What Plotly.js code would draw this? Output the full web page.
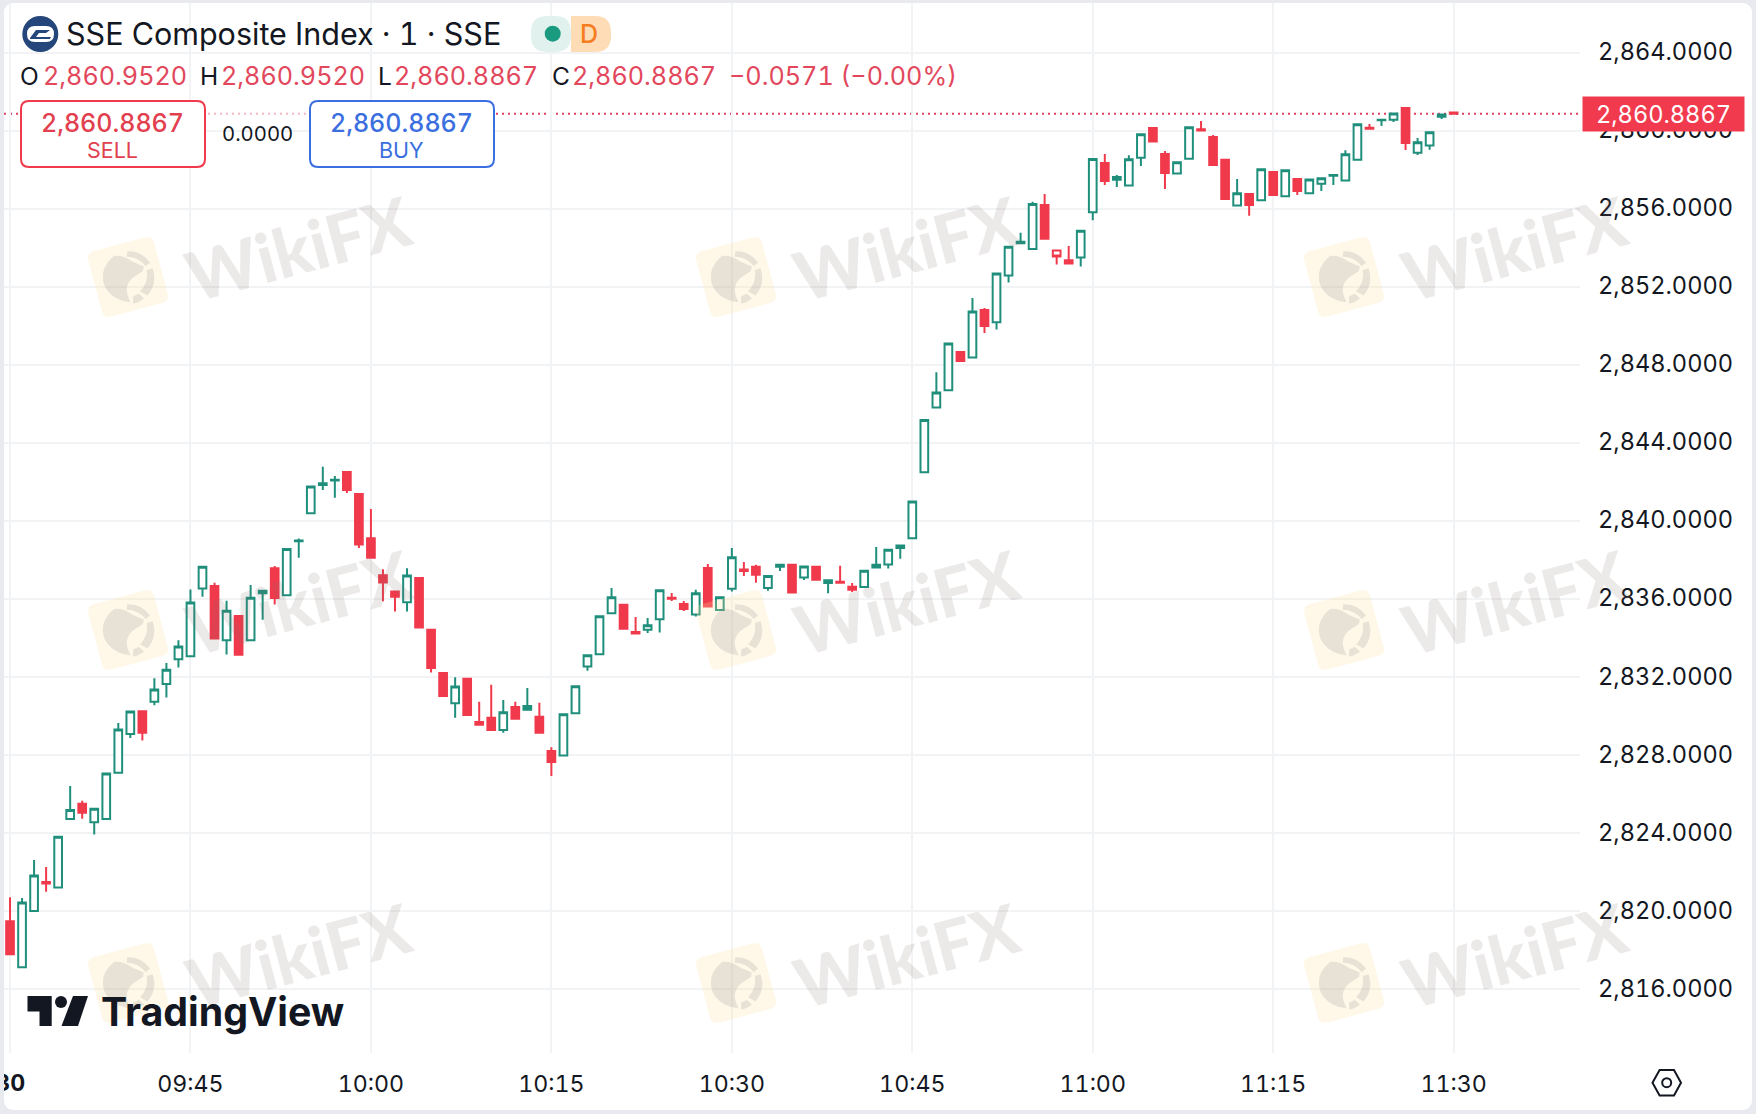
<!DOCTYPE html>
<html>
<head>
<meta charset="utf-8">
<title>SSE Composite Index</title>
<script src="https://cdn.plot.ly/plotly-3.0.1.min.js"></script>
<style>
html,body{margin:0;padding:0;width:1756px;height:1114px;overflow:hidden;background:#e8eaf0;}
#panel{position:absolute;left:4px;top:3px;width:1748px;height:1107px;background:#fff;border-radius:9px;overflow:hidden;}
#chart{position:absolute;left:-4px;top:-3px;width:1756px;height:1114px;}
svg text{font-feature-settings:"tnum" 1;}
</style>
</head>
<body>
<div id="panel"><div id="chart"></div></div>
<script>
var barTimes = ["09:30","09:31","09:32","09:33","09:34","09:35","09:36","09:37","09:38","09:39","09:40","09:41","09:42","09:43","09:44",
"09:45","09:46","09:47","09:48","09:49","09:50","09:51","09:52","09:53","09:54","09:55","09:56","09:57","09:58","09:59",
"10:00","10:01","10:02","10:03","10:04","10:05","10:06","10:07","10:08","10:09","10:10","10:11","10:12","10:13","10:14",
"10:15","10:16","10:17","10:18","10:19","10:20","10:21","10:22","10:23","10:24","10:25","10:26","10:27","10:28","10:29",
"10:30","10:31","10:32","10:33","10:34","10:35","10:36","10:37","10:38","10:39","10:40","10:41","10:42","10:43","10:44",
"10:45","10:46","10:47","10:48","10:49","10:50","10:51","10:52","10:53","10:54","10:55","10:56","10:57","10:58","10:59",
"11:00","11:01","11:02","11:03","11:04","11:05","11:06","11:07","11:08","11:09","11:10","11:11","11:12","11:13","11:14",
"11:15","11:16","11:17","11:18","11:19","11:20","11:21","11:22","11:23","11:24","11:25","11:26","11:27","11:28","11:29","11:30"];
var opens = [2819.49,2817.14,2820.02,2821.50,2821.22,2824.73,2825.51,2824.57,2824.73,2827.10,2829.09,2830.26,2830.75,2831.65,2832.92,
2833.08,2836.55,2836.68,2833.89,2835.14,2833.89,2836.31,2837.59,2836.20,2838.97,2840.40,2841.85,2842.08,2842.52,2841.39,
2839.13,2837.23,2836.40,2835.84,2837.09,2834.43,2832.22,2830.67,2831.92,2829.71,2829.92,2829.30,2830.48,2830.33,2829.97,
2828.22,2827.99,2830.16,2832.55,2833.18,2835.28,2835.71,2834.32,2834.44,2834.97,2836.07,2835.76,2835.21,2837.60,2835.45,
2836.53,2837.52,2837.66,2836.58,2837.66,2837.77,2837.11,2837.66,2836.83,2836.90,2836.64,2836.62,2837.62,2837.78,2838.63,
2839.12,2842.51,2845.83,2846.71,2848.67,2848.39,2850.82,2850.19,2852.59,2854.25,2853.95,2856.21,2853.88,2853.37,2853.51,
2855.84,2858.36,2857.50,2857.20,2858.63,2860.15,2858.82,2857.82,2858.58,2860.09,2859.69,2858.52,2856.18,2856.77,2856.45,
2857.90,2856.65,2857.54,2856.81,2857.30,2857.71,2857.46,2858.53,2860.17,2860.55,2860.57,2861.18,2858.89,2859.25,2860.73,2860.952];
var highs = [2820.72,2820.69,2822.63,2822.28,2823.83,2826.42,2825.67,2825.26,2827.06,2829.65,2830.24,2830.26,2831.95,2832.73,2833.89,
2836.50,2837.67,2836.84,2835.92,2835.14,2836.73,2836.43,2837.70,2838.58,2839.11,2841.78,2842.79,2842.31,2842.52,2841.39,
2840.63,2837.53,2836.40,2837.59,2837.09,2834.43,2832.22,2832.00,2831.92,2830.74,2831.61,2830.84,2830.74,2831.45,2830.69,
2828.41,2830.10,2831.54,2833.13,2835.13,2836.58,2835.71,2835.09,2835.04,2836.46,2836.32,2835.91,2836.48,2837.81,2836.10,
2838.63,2837.91,2837.76,2837.20,2837.77,2837.77,2837.68,2837.66,2836.97,2837.71,2836.83,2837.46,2838.67,2838.54,2838.75,
2841.01,2845.18,2847.63,2849.11,2848.67,2851.44,2850.93,2852.69,2854.07,2854.78,2856.37,2856.77,2853.88,2854.11,2854.89,
2858.56,2858.82,2857.75,2858.75,2859.83,2860.15,2858.97,2858.40,2860.19,2860.51,2859.80,2858.52,2857.54,2856.77,2858.04,
2857.90,2857.99,2857.54,2857.51,2857.58,2857.75,2859.01,2860.34,2860.36,2860.58,2860.90,2861.18,2859.64,2859.93,2860.84,2860.952];
var lows = [2817.80,2817.14,2820.02,2821.00,2821.22,2824.73,2824.75,2823.94,2824.73,2827.10,2828.88,2828.76,2830.56,2830.96,2832.50,
2833.08,2836.13,2833.98,2833.16,2833.15,2833.89,2834.95,2835.73,2836.20,2838.12,2840.40,2841.60,2841.20,2841.44,2838.62,
2838.13,2835.89,2835.37,2835.37,2834.55,2832.24,2831.04,2829.93,2830.07,2829.56,2829.30,2829.15,2829.87,2830.33,2829.15,
2826.94,2827.99,2830.16,2832.33,2833.18,2835.28,2834.48,2834.24,2834.27,2834.29,2835.91,2835.40,2835.11,2835.62,2835.45,
2836.39,2837.19,2836.84,2836.43,2837.45,2836.35,2836.99,2837.00,2836.30,2836.85,2836.37,2836.62,2837.62,2837.57,2838.08,
2839.12,2842.51,2845.83,2846.71,2848.21,2848.39,2849.64,2849.82,2852.23,2854.25,2853.95,2854.48,2853.15,2853.21,2853.05,
2855.42,2857.23,2857.13,2857.20,2858.21,2859.46,2857.03,2857.82,2858.58,2860.02,2858.26,2856.52,2856.18,2855.65,2856.45,
2856.72,2856.65,2856.72,2856.81,2856.93,2857.23,2857.46,2858.53,2860.12,2860.25,2860.46,2859.03,2858.77,2859.04,2860.62,2860.8867];
var closes = [2817.80,2820.46,2821.84,2821.43,2823.83,2825.20,2825.05,2825.26,2827.06,2829.32,2830.24,2829.16,2831.37,2832.39,2833.57,
2835.83,2837.67,2833.98,2835.41,2833.15,2836.08,2836.43,2836.06,2838.58,2839.01,2841.78,2841.95,2842.12,2841.60,2838.80,
2838.13,2836.86,2836.13,2837.21,2834.55,2832.48,2831.04,2831.52,2830.07,2829.56,2829.30,2830.21,2829.87,2830.53,2829.15,
2827.66,2830.10,2831.54,2833.13,2835.13,2836.10,2834.48,2834.24,2834.67,2836.46,2836.02,2835.50,2836.31,2835.62,2836.10,
2838.15,2837.45,2837.25,2837.19,2837.77,2836.35,2837.68,2837.00,2836.97,2836.85,2836.49,2837.46,2837.77,2838.54,2838.75,
2841.01,2845.18,2846.60,2849.11,2848.21,2850.75,2850.01,2852.69,2854.07,2854.32,2856.26,2854.48,2853.56,2853.21,2854.89,
2858.56,2857.44,2857.64,2858.55,2859.83,2859.46,2857.85,2858.40,2860.19,2860.02,2858.26,2856.52,2856.81,2856.21,2858.04,
2856.72,2857.99,2856.93,2857.51,2857.58,2857.75,2858.81,2860.34,2860.12,2860.58,2860.90,2859.39,2859.42,2859.93,2860.84,2860.8867];

var solidUpBars = [43,64,72,92];
var hollowDownBars = [70,87];

var timeTicks = ["09:30","09:45","10:00","10:15","10:30","10:45","11:00","11:15","11:30"];
var timeTickLabels = [" ","09:45","10:00","10:15","10:30","10:45","11:00","11:15","11:30"];
var sessionLabel = "<b>09:30</b>";
var priceTicks = [2816,2820,2824,2828,2832,2836,2840,2844,2848,2852,2856,2860,2864];

var lastPrice = 2860.8867;
var titleText = "SSE Composite Index · 1 · SSE";
var ohlcLabels = ["O","H","L","C"];
var ohlcValues = ["2,860.9520","2,860.9520","2,860.8867","2,860.8867"];
var changeText = "−0.0571 (−0.00%)";
var watermarkCols = [0,608,1216];
var watermarkRows = [0,353,706];

var GREEN="#1f8f7c", RED="#f03a4c", INK="#131722", VALUE_RED="#e2475c", BLUE="#3b6fe0", GRID="#f2f3f5";
var FONT="Inter, 'Noto Sans', sans-serif";
var L=4,R=1580,T=3,B=1053;
var fx=function(x){return (x-L)/(R-L);};
var fy=function(y){return (B-y)/(B-T);};

function pick(arr,idx){return idx.map(function(i){return arr[i];});}
var special = solidUpBars.concat(hollowDownBars);
var mainBars = barTimes.map(function(_,i){return i;}).filter(function(i){return special.indexOf(i)<0;});
function candle(idx,incFill,decFill){
  return {type:"candlestick",x:pick(barTimes,idx),open:pick(opens,idx),high:pick(highs,idx),low:pick(lows,idx),close:pick(closes,idx),
    increasing:{line:{color:GREEN,width:2},fillcolor:incFill},
    decreasing:{line:{color:RED,width:2},fillcolor:decFill},
    whiskerwidth:0,hoverinfo:"skip",showlegend:false};
}
var traces=[candle(mainBars,"#ffffff",RED),candle(solidUpBars,GREEN,RED),candle(hollowDownBars,"#ffffff","#ffffff")];

var shapes=[], ann=[];
function pathFrom(pts,close){
  return pts.map(function(p,i){return (i?"L":"M")+fx(p[0]).toFixed(5)+","+fy(p[1]).toFixed(5);}).join(" ")+(close?" Z":"");
}
function rrPath(x0,y0,x1,y1,r){
  var c=function(x,y){return fx(x).toFixed(5)+","+fy(y).toFixed(5);};
  return "M"+c(x0+r,y0)+" L"+c(x1-r,y0)+" Q"+c(x1,y0)+" "+c(x1,y0+r)+" L"+c(x1,y1-r)+" Q"+c(x1,y1)+" "+c(x1-r,y1)+
    " L"+c(x0+r,y1)+" Q"+c(x0,y1)+" "+c(x0,y1-r)+" L"+c(x0,y0+r)+" Q"+c(x0,y0)+" "+c(x0+r,y0)+" Z";
}
function addPath(path,fill,line,width,layer){
  shapes.push({type:"path",xref:"paper",yref:"paper",path:path,fillcolor:fill||"rgba(0,0,0,0)",
    line:{color:line||"rgba(0,0,0,0)",width:line?(width||1):0},layer:layer||"above"});
}
function addCircle(cx,cy,r,fill,line,width){
  shapes.push({type:"circle",xref:"paper",yref:"paper",x0:fx(cx-r),x1:fx(cx+r),y0:fy(cy+r),y1:fy(cy-r),
    fillcolor:fill||"rgba(0,0,0,0)",line:{color:line||"rgba(0,0,0,0)",width:line?(width||1):0},layer:"above"});
}
function addText(txt,x,y,size,color,anchor,weight){
  ann.push({xref:"paper",yref:"paper",x:fx(x),y:fy(y),text:txt,showarrow:false,xanchor:anchor||"left",yanchor:"middle",
    font:{family:FONT,size:size,color:color,weight:weight||400},borderpad:0,borderwidth:0});
}

/* last price line */
shapes.push({type:"line",xref:"paper",yref:"y",x0:0,x1:1,y0:lastPrice,y1:lastPrice,line:{color:"#df3f62",width:2,dash:"2px,4px"},layer:"below"});

/* watermarks */
function rot(cx,cy,deg){var a=deg*Math.PI/180;return function(x,y){return [cx+x*Math.cos(a)-y*Math.sin(a),cy+x*Math.sin(a)+y*Math.cos(a)];};}
function qPath(cmds,t){
  return cmds.map(function(c){
    var s=c[0];
    for(var k=1;k<c.length;k+=2){var p=t(c[k],c[k+1]);s+=(k>1?" ":"")+fx(p[0]).toFixed(5)+","+fy(p[1]).toFixed(5);}
    return s;
  }).join(" ");
}
watermarkCols.forEach(function(dx){watermarkRows.forEach(function(dy){
  var t=rot(128+dx,277+dy,-15), h=34, r=8;
  addPath(qPath([["M",-h+r,-h],["L",h-r,-h],["Q",h,-h,h,-h+r],["L",h,h-r],["Q",h,h,h-r,h],["L",-h+r,h],["Q",-h,h,-h,h-r],["L",-h,-h+r],["Q",-h,-h,-h+r,-h],["Z"]],t),"rgba(253,226,160,0.24)");
  /* eagle head */
  addPath(qPath([["M",-8,-24],["Q",-26,-16,-25,2],["Q",-22,18,-4,25],["Q",-8,8,4,2],["L",16,-2],["L",18,-6],["L",8,-14],["Q",2,-22,-8,-24],["Z"]],t),"rgba(120,115,125,0.17)");
  /* ring */
  addPath(qPath([["M",6,-25],["Q",20,-22,25,-8],["L",20,-6],["Q",15,-17,4,-20],["Z"]],t),"rgba(120,115,125,0.17)");
  addPath(qPath([["M",26,-2],["Q",27,14,14,23],["L",8,17],["Q",19,10,20,-2],["Z"]],t),"rgba(120,115,125,0.17)");
  addPath(qPath([["M",10,25],["Q",2,28,-2,27],["L",0,20],["Q",4,20,6,19],["Z"]],t),"rgba(120,115,125,0.17)");
  ann.push({xref:"paper",yref:"paper",x:fx(298+dx),y:fy(248+dy),text:"WikiFX",showarrow:false,textangle:-15,xanchor:"center",yanchor:"middle",
    font:{family:"Lato, 'Noto Sans', sans-serif",size:68,color:"rgba(125,110,105,0.15)",weight:900}});
});});

/* header */
addCircle(40.3,34,18,"#24467a");
addPath(rrPath(27,26,54,42,8),"#ffffff");
addPath(pathFrom([[30,38],[36,30],[50,30],[46,33],[39,33],[36,37],[51,37],[50,39],[30,39]],true),"#24467a");
addText(titleText,65.5,33.5,30.5,INK);
/* status badge */
addPath(rrPath(531,16,571,52,16),"#e1f2ee");
addPath(rrPath(571,16,611,52,16),"#fedcb6");
addPath(pathFrom([[571,16],[590,16],[590,52],[571,52]],true),"#fedcb6");
addCircle(552.7,33.7,8,"#1a9a7f");
addText("D",589,34,25,"#f57c1f","center",500);
/* ohlc row */
var ohlcLabelX=[20,200,378,552], ohlcValueX=[43,221,394,572];
ohlcLabels.forEach(function(l,i){
  addText(l,ohlcLabelX[i],76.5,24.5,INK);
  addText(ohlcValues[i],ohlcValueX[i],76.5,25.2,VALUE_RED);
});
addText(changeText,729,76.5,25.2,VALUE_RED);
/* sell / buy */
addPath(pathFrom([[205,104],[311,104],[311,124],[205,124]],true),"rgba(255,255,255,0.62)");
addPath(rrPath(21,101,205,167,8),"#ffffff",RED,2);
addPath(rrPath(310,101,494,167,8),"#ffffff",BLUE,2);
addText(ohlcValues[3],112.5,123,25,"#e2404f","center",550);
addText("SELL",112.5,150.5,21.5,"#e2404f","center",400);
addText(ohlcValues[3],401.5,123,25,BLUE,"center",550);
addText("BUY",401,150.5,21.5,BLUE,"center",400);
addText("0.0000",257,134,20.3,INK,"center",400);

/* tradingview mark */
addPath(pathFrom([[27.5,996],[51.7,996],[51.7,1026],[39.5,1026],[39.5,1011.5],[27.5,1011.5]],true),INK);
addCircle(61,1002,6,INK);
addPath(pathFrom([[73,996],[88,996],[78,1026],[61.5,1026]],true),INK);
addText("TradingView",101,1011,39.3,INK,"left",650);

/* settings hexagon */
addPath(pathFrom([[1652.5,1082.7],[1659.6,1070],[1674,1070],[1681,1082.7],[1674,1095.4],[1659.6,1095.4]],true),null,INK,2);
addCircle(1666.7,1082.7,4.5,null,INK,2);

/* session label, cut by the panel edge as in the reference */
addText(sessionLabel,25,1083,23.2,INK,"right",400);

/* last-price tag */
ann.push({xref:"paper",yref:"y",x:1,xshift:2,xanchor:"left",y:lastPrice,yanchor:"middle",text:"2,860.8867",showarrow:false,
  bgcolor:"#f23a4e",width:161,height:34,align:"center",font:{family:FONT,size:23.6,color:"#ffffff"},borderpad:0});

var layout={
  width:1756,height:1114,
  margin:{l:L,r:1756-R,t:T,b:1114-B,pad:0},
  paper_bgcolor:"rgba(0,0,0,0)",plot_bgcolor:"rgba(0,0,0,0)",
  showlegend:false,hovermode:false,dragmode:false,
  boxmode:"overlay",boxgap:0.2,boxgroupgap:0.2,
  xaxis:{type:"category",categoryorder:"array",categoryarray:barTimes,range:[-0.5,130.5],tickmode:"array",tickvals:timeTicks,ticktext:timeTickLabels,
    rangeslider:{visible:false},showgrid:true,gridcolor:GRID,gridwidth:1.6,zeroline:false,showline:false,ticks:"",ticklabelstandoff:15,
    tickfont:{family:FONT,size:23.2,color:INK},tickangle:0,fixedrange:true,automargin:false},
  yaxis:{side:"right",range:[2812.74,2866.56],tickmode:"array",tickvals:priceTicks,tickformat:",.4f",showgrid:true,gridcolor:GRID,gridwidth:1.6,zeroline:false,showline:false,ticks:"",ticklabelstandoff:17,ticklabelshift:-1,
    tickfont:{family:FONT,size:23.6,color:INK},fixedrange:true,automargin:false},
  shapes:shapes,annotations:ann
};
Plotly.newPlot("chart",traces,layout,{displayModeBar:false,responsive:false});
</script>
</body>
</html>
